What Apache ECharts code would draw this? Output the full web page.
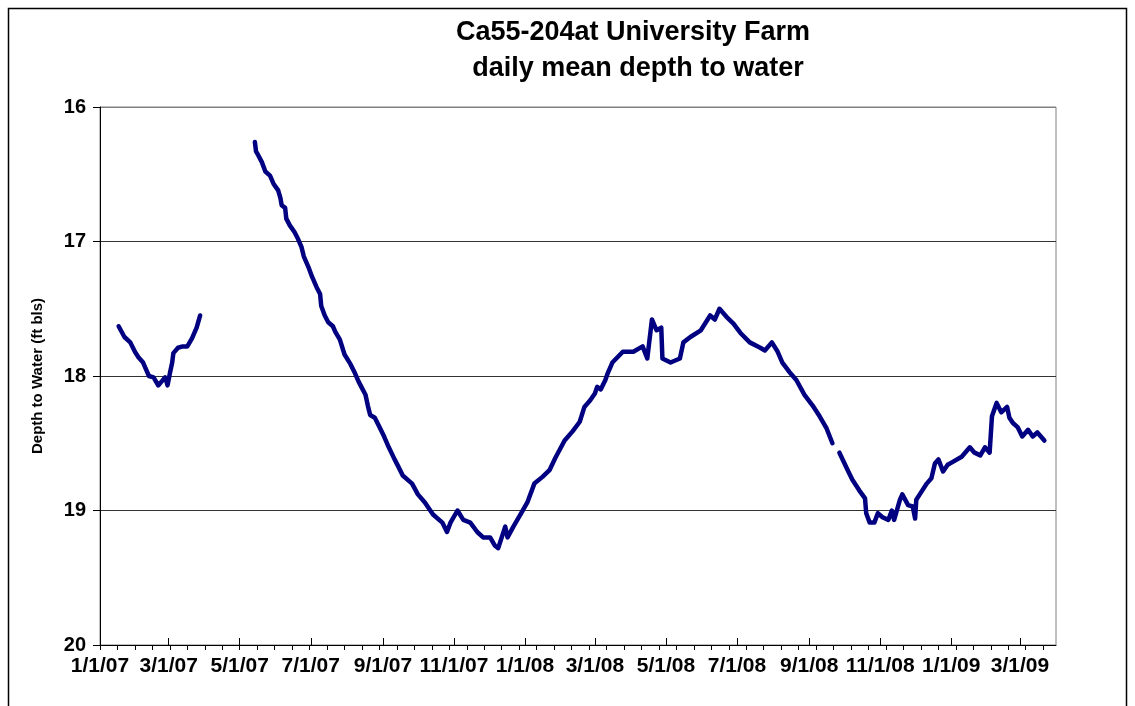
<!DOCTYPE html>
<html lang="en">
<head>
<meta charset="UTF-8">
<title>Ca55-204at University Farm</title>
<script src="https://cdn.jsdelivr.net/npm/echarts@6/dist/echarts.min.js"></script>
<style>html,body{margin:0;padding:0;background:#fff}</style>
</head>
<body>
<div id="chart" style="width:1135px;height:706px"></div>
<script>
// daily mean depth to water (null = no record)
var dates = [
    '2007-01-17','2007-01-22','2007-01-27','2007-01-31','2007-02-03','2007-02-07','2007-02-10','2007-02-12',
    '2007-02-16','2007-02-20','2007-02-23','2007-02-26','2007-02-28','2007-03-02','2007-03-04','2007-03-05',
    '2007-03-09','2007-03-13','2007-03-17','2007-03-21','2007-03-25','2007-03-28','2007-04-20',
    '2007-05-14','2007-05-15','2007-05-17','2007-05-20','2007-05-23','2007-05-27','2007-05-30','2007-06-03',
    '2007-06-05','2007-06-06','2007-06-09','2007-06-10','2007-06-13','2007-06-17','2007-06-20','2007-06-23',
    '2007-06-25','2007-06-29','2007-07-02','2007-07-06','2007-07-09','2007-07-10','2007-07-13','2007-07-16',
    '2007-07-20','2007-07-22','2007-07-26','2007-07-30','2007-08-04','2007-08-08','2007-08-11','2007-08-14',
    '2007-08-17','2007-08-19','2007-08-21','2007-08-25','2007-08-29','2007-09-02','2007-09-06','2007-09-11',
    '2007-09-14','2007-09-18','2007-09-26','2007-10-01','2007-10-07','2007-10-14','2007-10-22','2007-10-26',
    '2007-10-29','2007-11-04','2007-11-09','2007-11-15','2007-11-21','2007-11-26','2007-12-02','2007-12-06',
    '2007-12-09','2007-12-15','2007-12-17','2007-12-22','2007-12-28','2008-01-03','2008-01-09','2008-01-16',
    '2008-01-22','2008-01-27','2008-02-04','2008-02-11','2008-02-17','2008-02-21','2008-02-26','2008-03-01',
    '2008-03-03','2008-03-06','2008-03-10','2008-03-12','2008-03-16','2008-03-25','2008-04-03','2008-04-11',
    '2008-04-15','2008-04-19','2008-04-23','2008-04-27','2008-04-28','2008-05-05','2008-05-13','2008-05-16',
    '2008-05-22','2008-05-31','2008-06-08','2008-06-12','2008-06-16','2008-06-22','2008-06-28','2008-07-04',
    '2008-07-12','2008-07-21','2008-07-25','2008-07-31','2008-08-05','2008-08-09','2008-08-15','2008-08-21',
    '2008-08-28','2008-09-04','2008-09-10','2008-09-16','2008-09-21','2008-09-24',
    '2008-09-27','2008-10-03','2008-10-08','2008-10-14','2008-10-19','2008-10-20','2008-10-23','2008-10-27',
    '2008-10-30','2008-11-03','2008-11-08','2008-11-11','2008-11-13','2008-11-18','2008-11-20','2008-11-25',
    '2008-11-29','2008-12-01','2008-12-02','2008-12-05','2008-12-11','2008-12-15','2008-12-18','2008-12-21',
    '2008-12-25','2008-12-29','2009-01-02','2009-01-10','2009-01-17','2009-01-21','2009-01-26','2009-01-30',
    '2009-02-03','2009-02-05','2009-02-09','2009-02-13','2009-02-18','2009-02-20','2009-02-23','2009-02-27',
    '2009-03-03','2009-03-08','2009-03-12','2009-03-16','2009-03-22'
];
var depths = [
    17.63, 17.71, 17.75, 17.82, 17.86, 17.90, 17.96, 18.00,
    18.01, 18.07, 18.04, 18.01, 18.07, 17.98, 17.90, 17.83,
    17.79, 17.78, 17.78, 17.72, 17.64, 17.55, null,
    16.26, 16.33, 16.36, 16.41, 16.48, 16.51, 16.57, 16.62,
    16.68, 16.73, 16.75, 16.83, 16.88, 16.93, 16.98, 17.04,
    17.11, 17.19, 17.26, 17.34, 17.39, 17.48, 17.55, 17.60,
    17.63, 17.67, 17.73, 17.84, 17.91, 17.98, 18.04, 18.09,
    18.14, 18.22, 18.29, 18.31, 18.38, 18.45, 18.53, 18.62,
    18.67, 18.74, 18.80, 18.88, 18.94, 19.03, 19.09, 19.16,
    19.09, 19.00, 19.07, 19.09, 19.16, 19.20, 19.20, 19.26,
    19.28, 19.12, 19.20, 19.12, 19.03, 18.94, 18.80, 18.75,
    18.70, 18.61, 18.48, 18.41, 18.34, 18.23, 18.18, 18.13,
    18.08, 18.10, 18.03, 17.98, 17.90, 17.82, 17.82, 17.78,
    17.87, 17.58, 17.66, 17.64, 17.87, 17.90, 17.87, 17.75,
    17.71, 17.66, 17.55, 17.58, 17.50, 17.56, 17.61, 17.68,
    17.75, 17.79, 17.81, 17.75, 17.82, 17.90, 17.97, 18.03,
    18.14, 18.22, 18.30, 18.39, 18.50, null,
    18.57, 18.68, 18.77, 18.85, 18.91, 19.02, 19.09, 19.09,
    19.02, 19.05, 19.07, 19.00, 19.07, 18.92, 18.88, 18.96,
    18.97, 19.06, 18.92, 18.88, 18.80, 18.76, 18.65, 18.62,
    18.71, 18.66, 18.64, 18.60, 18.53, 18.57, 18.59, 18.53,
    18.57, 18.30, 18.20, 18.27, 18.23, 18.31, 18.35, 18.38,
    18.45, 18.40, 18.45, 18.42, 18.48
];

var axisStart = '2007-01-01';
var axisEnd = '2009-04-01';
var majorTicks = ['2007-01-01','2007-03-01','2007-05-01','2007-07-01','2007-09-01','2007-11-01','2008-01-01',
    '2008-03-01','2008-05-01','2008-07-01','2008-09-01','2008-11-01','2009-01-01','2009-03-01'];
var majorLabels = ['1/1/07','3/1/07','5/1/07','7/1/07','9/1/07','11/1/07','1/1/08',
    '3/1/08','5/1/08','7/1/08','9/1/08','11/1/08','1/1/09','3/1/09'];
var minorStep = 15; // days between minor ticks

// one category per day, only used to place the tick marks
var days = [];
var t = Date.UTC(2007, 0, 1), tEnd = Date.UTC(2009, 3, 1);
while (t <= tEnd) {
    days.push(new Date(t).toISOString().slice(0, 10));
    t += 86400000;
}

var font = '"Liberation Sans", Arial, sans-serif';
var chart = echarts.init(document.getElementById('chart'));

chart.setOption({
    animation: false,
    backgroundColor: '#fff',
    graphic: [
        {
            type: 'rect', silent: true, z: -1,
            shape: {x: 8.5, y: 8.5, width: 1118, height: 720},
            style: {fill: 'none', stroke: '#000', lineWidth: 1.5}
        },
        {
            type: 'text', x: 633, y: 33,
            style: {text: 'Ca55-204at University Farm', font: 'bold 27px ' + font,
                textAlign: 'center', textVerticalAlign: 'middle', fill: '#000'}
        },
        {
            type: 'text', x: 638, y: 69,
            style: {text: 'daily mean depth to water', font: 'bold 27px ' + font,
                textAlign: 'center', textVerticalAlign: 'middle', fill: '#000'}
        }
    ],
    grid: {
        left: 100, right: 79, top: 107, bottom: 61,
        show: true, borderColor: '#808080', borderWidth: 1
    },
    xAxis: [
        {
            type: 'time', min: axisStart, max: axisEnd, show: false
        },
        {
            type: 'category', position: 'bottom', boundaryGap: false, data: days,
            axisLine: {lineStyle: {color: '#000', width: 1}},
            axisTick: {
                inside: true, length: 7, lineStyle: {color: '#000'},
                interval: function (i, v) { return majorTicks.indexOf(v) >= 0; }
            },
            axisLabel: {
                interval: function (i, v) { return majorTicks.indexOf(v) >= 0; },
                formatter: function (v) { return majorLabels[majorTicks.indexOf(v)]; },
                fontFamily: font, fontWeight: 'bold', fontSize: 21, color: '#000', margin: 11
            },
            splitLine: {show: false}
        },
        {
            type: 'category', position: 'bottom', boundaryGap: false, data: days,
            axisLine: {show: false},
            axisTick: {
                inside: false, length: 5, lineStyle: {color: '#000'},
                interval: function (i) { return i % minorStep === 0; }
            },
            axisLabel: {show: false},
            splitLine: {show: false}
        }
    ],
    yAxis: {
        type: 'value', inverse: true, min: 16, max: 20, interval: 1,
        name: 'Depth to Water (ft bls)', nameLocation: 'middle', nameGap: 55,
        nameTextStyle: {fontFamily: font, fontWeight: 'bold', fontSize: 15, color: '#000'},
        axisLine: {show: true, lineStyle: {color: '#000', width: 1}},
        axisTick: {show: true, inside: false, length: 7, lineStyle: {color: '#000'}},
        axisLabel: {fontFamily: font, fontWeight: 'bold', fontSize: 20, color: '#000', margin: 14},
        splitLine: {show: true, lineStyle: {color: ['#808080', '#333', '#333', '#333', '#333'], width: 1}}
    },
    series: [{
        type: 'line',
        xAxisIndex: 0,
        data: dates.map(function (d, i) { return [d, depths[i]]; }),
        showSymbol: false,
        connectNulls: false,
        lineStyle: {color: '#000080', width: 4.5, cap: 'round', join: 'round'},
        itemStyle: {color: '#000080'}
    }]
});
</script>
</body>
</html>
